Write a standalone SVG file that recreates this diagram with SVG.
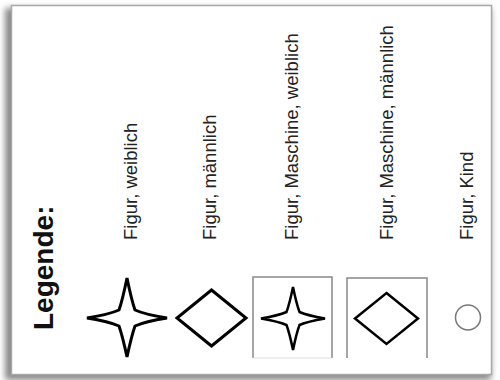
<svg xmlns="http://www.w3.org/2000/svg" width="500" height="380" viewBox="0 0 500 380">
<style>
.lbl{font-family:"Liberation Sans",Arial,sans-serif;font-size:18.5px;fill:#222}
.title{font-family:"Liberation Sans",Arial,sans-serif;font-size:28px;font-weight:bold;fill:#111}
.sym{fill:#fff;stroke:#000;stroke-linejoin:miter}
.box{fill:none;stroke:#888;stroke-width:1.5}
</style>
<defs>
<filter id="sh" x="-10%" y="-10%" width="120%" height="120%"><feGaussianBlur stdDeviation="3"/></filter>
</defs>
<rect width="500" height="380" fill="#fff"/>
<g id="frame">
<rect x="5" y="8" width="486" height="372" fill="#888" filter="url(#sh)"/>
<rect x="11.5" y="5.5" width="480" height="369" fill="#fff" stroke="#a8a8a8" stroke-width="1.5"/>
</g>
<g id="title"><text class="title" transform="translate(53,330) rotate(-90)">Legende:</text></g>
<g id="figur-weiblich">
<path class="sym" stroke-width="3" d="M127,278 Q131.5,300 135,310 Q145,314.5 167,318 Q145,321.5 135,326 Q131.5,336 127,357 Q122.5,336 119,326 Q109,321.5 87,318 Q109,314.5 119,310 Q122.5,300 127,278 Z"/>
<text class="lbl" transform="translate(137,240) rotate(-90)">Figur, weiblich</text>
</g>
<g id="figur-maennlich">
<path class="sym" stroke-width="3" d="M211.5,290 L246,318 L211.5,346 L177,318 Z"/>
<text class="lbl" transform="translate(216,240) rotate(-90)">Figur, männlich</text>
</g>
<g id="figur-maschine-weiblich">
<path class="box" d="M253,358 V277 H332 V358"/>
<path d="M253,358 H332" stroke="#ddd" stroke-width="1" fill="none"/>
<path class="sym" stroke-width="2.5" d="M293,287 Q296.5,304 299.5,312 Q307.5,315.5 325,318.5 Q307.5,321.5 299.5,325 Q296.5,333 293,350 Q289.5,333 286.5,325 Q278.5,321.5 261,318.5 Q278.5,315.5 286.5,312 Q289.5,304 293,287 Z"/>
<text class="lbl" transform="translate(298,240) rotate(-90)">Figur, Maschine, weiblich</text>
</g>
<g id="figur-maschine-maennlich">
<path class="box" d="M347,358 V278 H427 V358"/>
<path class="sym" stroke-width="2.5" d="M386.5,293 L418,318.5 L386.5,344 L355,318.5 Z"/>
<text class="lbl" transform="translate(393,240) rotate(-90)">Figur, Maschine, männlich</text>
</g>
<g id="figur-kind">
<circle cx="468" cy="317.5" r="12.5" fill="#fff" stroke="#777" stroke-width="1.5"/>
<text class="lbl" transform="translate(473,240) rotate(-90)">Figur, Kind</text>
</g>
<g id="connectors"/>
</svg>
